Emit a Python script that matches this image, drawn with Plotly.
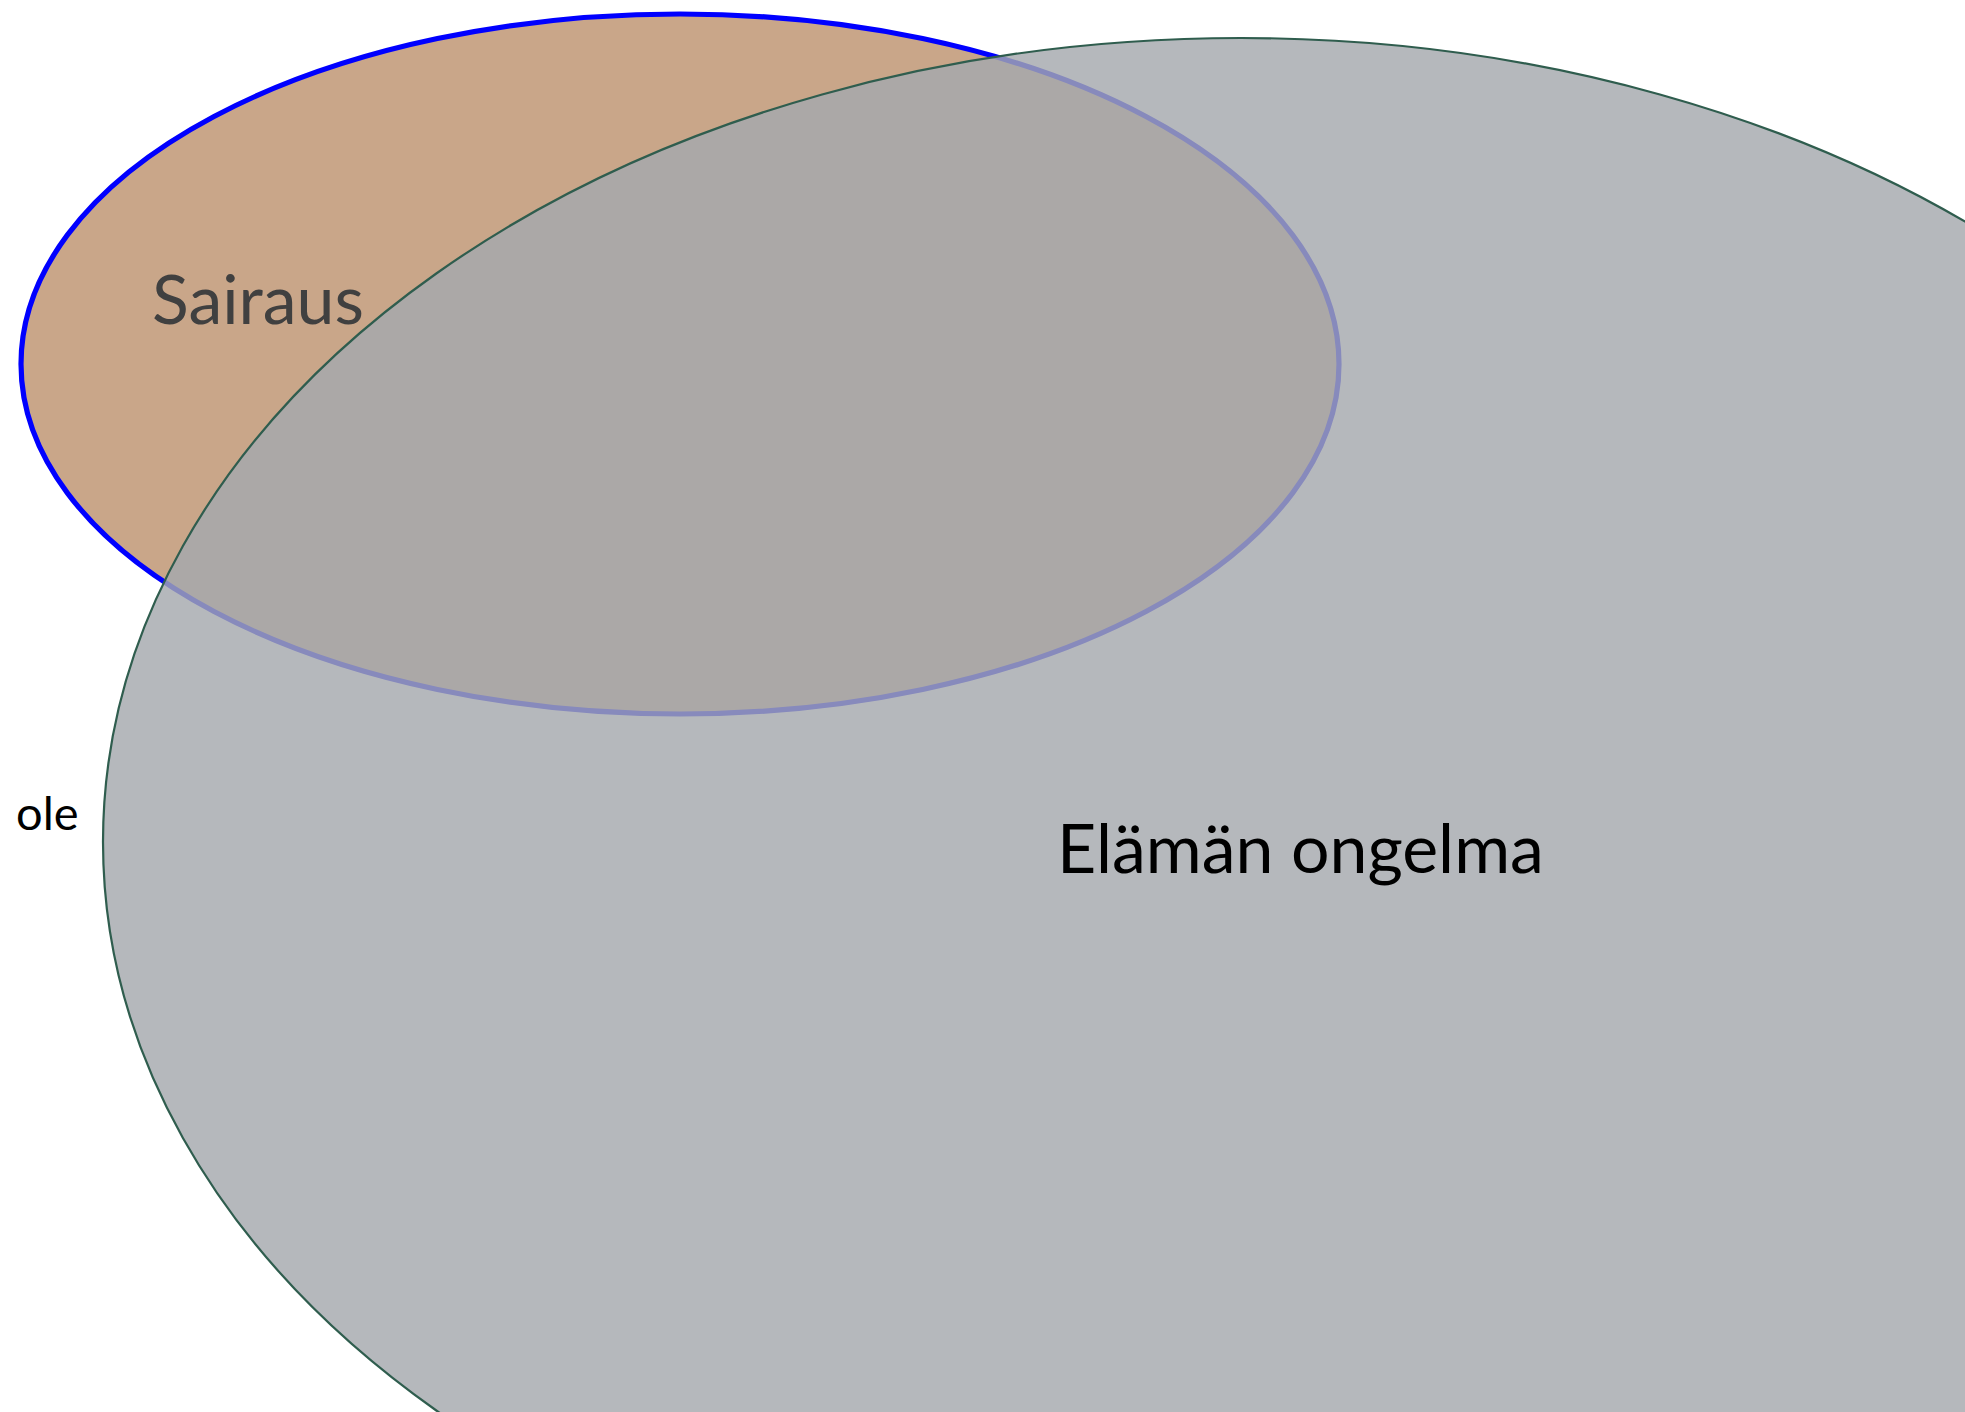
import plotly.graph_objects as go

# Venn-style sets (pixel-space geometry of each ellipse)
set_names = ["Sairaus", "Elämän ongelma"]
center_x = [680, 1241]
center_y = [364, 842]
radius_x = [659, 1138]
radius_y = [350, 804]

labels = ["Sairaus", "Elämän ongelma", "ole"]
label_x = [150, 1055, 14]
label_y = [297, 846, 812]

W, H = 1965, 1412

fill_colors = ["#C9A689", "rgba(165,168,173,0.82)"]
line_colors = ["#0000FF", "#2F5D4E"]
line_widths = [5.2, 2.2]

fig = go.Figure()
fig.add_trace(go.Scatter(x=[0, W], y=[0, H], mode="markers",
                         marker=dict(opacity=0), hoverinfo="skip", showlegend=False))

for i in range(len(set_names)):
    fig.add_shape(type="circle", xref="x", yref="y",
                  x0=center_x[i] - radius_x[i], x1=center_x[i] + radius_x[i],
                  y0=center_y[i] - radius_y[i], y1=center_y[i] + radius_y[i],
                  fillcolor=fill_colors[i],
                  line=dict(color=line_colors[i], width=line_widths[i]),
                  layer="above")

label_sizes = [68, 68, 47]
label_colors = ["#404040", "#000000", "#000000"]
for t, x, y, s, c in zip(labels, label_x, label_y, label_sizes, label_colors):
    fig.add_annotation(x=x, y=y, xref="x", yref="y", text=t, showarrow=False,
                       xanchor="left", yanchor="middle",
                       font=dict(family="Lato", size=s, color=c))

fig.update_layout(width=W, height=H, autosize=False,
                  margin=dict(l=0, r=0, t=0, b=0, pad=0),
                  paper_bgcolor="white", plot_bgcolor="white",
                  xaxis=dict(range=[0, W], visible=False, fixedrange=True),
                  yaxis=dict(range=[H, 0], visible=False, fixedrange=True),
                  showlegend=False)

fig.write_html("out.html", config={"displayModeBar": False},
               post_script="document.body.style.margin='0';document.body.style.overflow='hidden';")
